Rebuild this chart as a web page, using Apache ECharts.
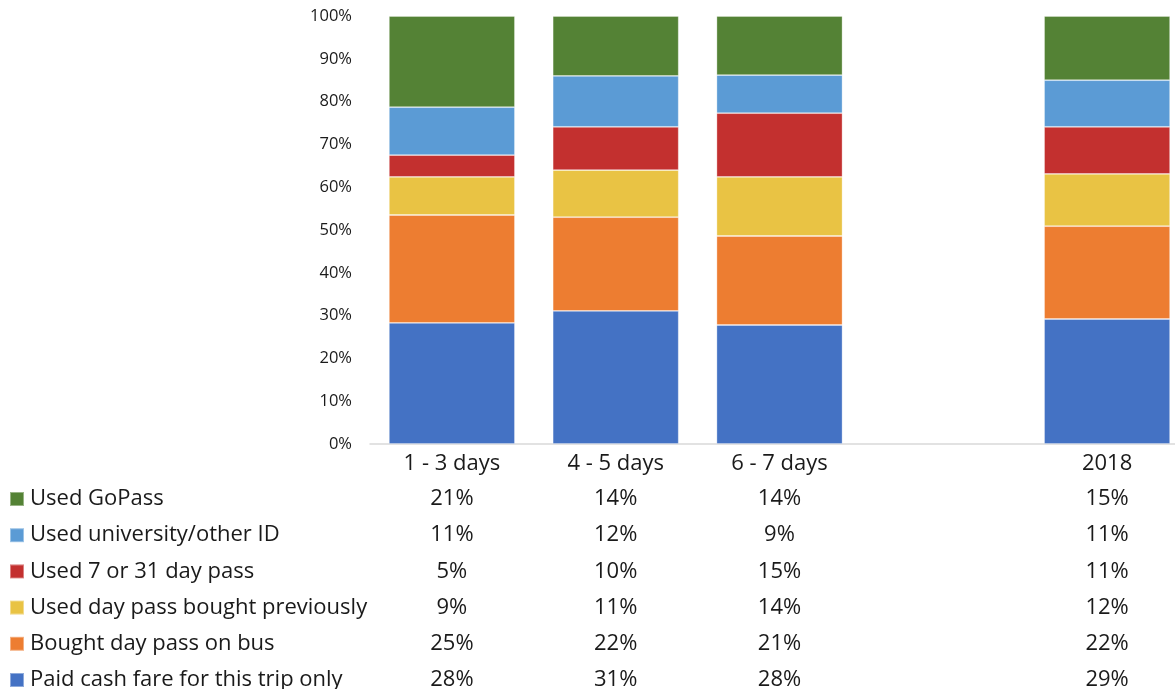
<!DOCTYPE html>
<html>
<head>
<meta charset="utf-8">
<script src="https://cdn.jsdelivr.net/npm/echarts@6/dist/echarts.min.js"></script>
<style>
html,body{margin:0;padding:0;background:#fff;}
#chart{width:1175px;height:689px;}
</style>
</head>
<body>
<div id="chart"></div>
<script>
// Categories (an empty slot separates the survey groups from 2018)
var categories = ['1 - 3 days', '4 - 5 days', '6 - 7 days', '', '2018'];

// Series values in percent (bottom to top of the stack)
var paidCash      = [28.3, 31.1, 27.8, null, 29.2];
var boughtOnBus   = [25.2, 21.9, 20.8, null, 21.7];
var dayPassPrev   = [8.9, 11.0, 13.8, null, 12.2];
var pass7or31     = [5.1, 10.1, 14.9, null, 11.0];
var universityID  = [11.2, 11.9, 8.9, null, 10.9];
var goPass        = [21.3, 14.0, 13.8, null, 15.0];

var seriesNames = [
  'Paid cash fare for this trip only',
  'Bought day pass on bus',
  'Used day pass bought previously',
  'Used 7 or 31 day pass',
  'Used university/other ID',
  'Used GoPass'
];
var seriesValues = [paidCash, boughtOnBus, dayPassPrev, pass7or31, universityID, goPass];
var seriesColors = ['#4472C4', '#ED7D31', '#E9C344', '#C3302F', '#5B9BD5', '#548235'];

// Y tick labels
var yMin = 0, yMax = 100, yInterval = 10;

var FONT = 'Open Sans';
var TEXT = '#1a1a1a';

// Table rows in display order (top row = top of stack)
var tableOrder = [5, 4, 3, 2, 1, 0];

var xAxes = [{
  type: 'category',
  data: categories,
  gridIndex: 0,
  position: 'bottom',
  axisLine: { lineStyle: { color: '#D9D9D9', width: 1.5 } },
  axisTick: { show: false },
  axisLabel: { fontFamily: FONT, fontSize: 22, color: TEXT, margin: 9, interval: 0 }
}];
tableOrder.forEach(function (si, row) {
  xAxes.push({
    type: 'category',
    data: seriesValues[si].map(function (v) { return v == null ? '' : Math.round(v) + '%'; }),
    gridIndex: 0,
    position: 'bottom',
    offset: 35 + 36.2 * row,
    axisLine: { show: false },
    axisTick: { show: false },
    axisLabel: { fontFamily: FONT, fontSize: 22, color: TEXT, margin: 9, interval: 0 }
  });
});

var series = seriesNames.map(function (name, i) {
  return {
    name: name,
    type: 'bar',
    stack: 'total',
    barWidth: 126,
    xAxisIndex: 0,
    data: seriesValues[i],
    itemStyle: { color: seriesColors[i], borderColor: 'rgba(255,255,255,0.4)', borderWidth: 0.8 }
  };
});

var chart = echarts.init(document.getElementById('chart'));
chart.setOption({
  animation: false,
  backgroundColor: '#ffffff',
  grid: { left: 370, width: 819, top: 16, bottom: 245, containLabel: false, outerBoundsMode: 'none' },
  legend: {
    orient: 'vertical',
    left: 4,
    top: 483,
    height: 260,
    data: tableOrder.map(function (i) { return seriesNames[i]; }),
    icon: 'rect',
    itemWidth: 14,
    itemHeight: 14,
    itemGap: 14.2,
    selectedMode: false,
    textStyle: { fontFamily: FONT, fontSize: 22, color: TEXT, lineHeight: 22, padding: [0, 0, 0, 1] }
  },
  xAxis: xAxes,
  yAxis: {
    type: 'value',
    min: yMin,
    max: yMax,
    interval: yInterval,
    axisLine: { show: false },
    axisTick: { show: false },
    splitLine: { show: false },
    axisLabel: { formatter: '{value}%', fontFamily: FONT, fontSize: 16.5, color: TEXT, margin: 18 }
  },
  series: series
});
</script>
</body>
</html>
